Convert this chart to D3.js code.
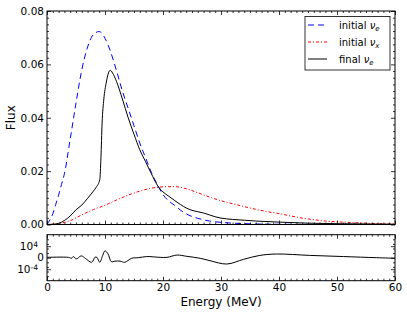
<!DOCTYPE html>
<html><head><meta charset="utf-8">
<script src="https://cdn.jsdelivr.net/npm/d3@7"></script>
<style>body{margin:0;background:#fff}svg{display:block}text{font-family:"DejaVu Sans",sans-serif}</style>
</head><body><svg id="c" width="407" height="316"></svg>
<script>
// initial nu_e
const energyNuE = [0,0.5,1,1.5,2,2.5,3,4,5,6,7,8,9,10,11,12,13,14,15,16,17,18,19,20,21,22,23,24,25,26,28,30,33,36,40,50,60];
const fluxNuE   = [0,0.0017,0.004,0.0075,0.011,0.015,0.019,0.032,0.0455,0.058,0.0665,0.0712,0.0723,0.0698,0.0645,0.0575,0.050,0.0435,0.037,0.0305,0.025,0.0195,0.015,0.0112,0.0088,0.0072,0.0054,0.004,0.003,0.0023,0.0013,0.0008,0.0004,0.0002,0.0001,0.00002,0];
// initial nu_x
const energyNuX = [0,1,1.5,2,3,4,5,6,8,10,12,14,16,18,20,22,24,26,28,30,32,34,36,38,40,42,44,46,48,50,53,56,60];
const fluxNuX   = [0,0,0.0001,0.0003,0.0008,0.0014,0.0025,0.0036,0.0056,0.0072,0.0092,0.011,0.0125,0.0136,0.0141,0.0142,0.0134,0.0119,0.0103,0.0089,0.0078,0.0067,0.0057,0.0048,0.0041,0.0032,0.0024,0.0018,0.0013,0.001,0.0007,0.0004,0.0002];
// final nu_e
const energyFinal = [0,1,2,3,4,5,6,7,8,8.5,9.1,9.3,9.5,9.8,10.2,10.6,10.9,11.3,12,13,14,15,16,17,18,19,20,21,22,23,24,25,26,27,28,29,30,32,34,36,40,45,50,60];
const fluxFinal   = [0,0.0001,0.0004,0.0015,0.0032,0.0055,0.0073,0.0098,0.0125,0.014,0.0168,0.025,0.038,0.047,0.053,0.0568,0.0578,0.0568,0.0535,0.047,0.040,0.0338,0.028,0.0235,0.019,0.0148,0.0122,0.0106,0.009,0.0075,0.0062,0.0053,0.0048,0.0043,0.0036,0.0029,0.0024,0.0019,0.0016,0.0013,0.0009,0.0005,0.0003,0.0001];
// residual panel
const energyRes = [0,3.7,4.25,4.5,5.1,5.7,6.0,6.6,7.7,8.3,8.6,9.1,9.6,10.0,10.5,11.1,11.7,12.6,13.4,14.6,15.8,17.2,19.5,20.7,22.4,24.1,26.4,28.1,31,33.9,36.7,39.6,45.3,51.1,56.8,60];
const valueRes  = [0.03,0.03,-0.05,0.1,-0.1,0.12,0.15,-0.05,-0.4,0.05,0.03,-0.4,0.2,0.6,0.35,-0.35,-0.3,-0.3,-0.4,-0.05,0,0.1,0.03,0.03,0.23,0.12,-0.05,-0.26,-0.55,-0.14,0.2,0.32,0.2,0.1,0,-0.05];

const xTicks = [0,10,20,30,40,50,60];
const yTicks = [0,0.02,0.04,0.06,0.08];
const resTicks = [1,0,-1];
const resLabels = ["10|4","0","10|-4"];

const svg = d3.select("#c");
const x = d3.scaleLinear().domain([0,60]).range([47,395]);
const y = d3.scaleLinear().domain([0,0.08]).range([224.5,11]);
const yr = d3.scaleLinear().domain([-2,2]).range([280.7,234.7]);

function styleAxis(g){
  g.select(".domain").remove();
  g.selectAll("line").attr("stroke","#000").attr("stroke-width",0.8);
  g.selectAll("text").attr("fill","#000").style("font-family","DejaVu Sans").style("font-size","10.5px");
}
const minorX = d3.range(0,61,1).filter(v=>v%10!==0);
const minorY = d3.range(0,0.0801,0.0025).filter(v=>Math.abs(v/0.02-Math.round(v/0.02))>1e-6);
const minorR = [-1.6,-1.2,-0.8,-0.4,0.4,0.8,1.2,1.6];

function panelTicks(yScale, top, bottom, yMaj, yMin, xLabels){
  // bottom
  svg.append("g").attr("transform",`translate(0,${bottom})`)
    .call(d3.axisBottom(x).tickValues(xTicks).tickSize(-4).tickPadding(3).tickFormat(xLabels?d3.format("d"):"")).call(styleAxis);
  svg.append("g").attr("transform",`translate(0,${bottom})`)
    .call(d3.axisBottom(x).tickValues(minorX).tickSize(-2).tickFormat("")).call(styleAxis);
  // top
  svg.append("g").attr("transform",`translate(0,${top})`)
    .call(d3.axisTop(x).tickValues(xTicks).tickSize(-4).tickFormat("")).call(styleAxis);
  svg.append("g").attr("transform",`translate(0,${top})`)
    .call(d3.axisTop(x).tickValues(minorX).tickSize(-2).tickFormat("")).call(styleAxis);
  // left / right
  svg.append("g").attr("transform",`translate(47,0)`)
    .call(d3.axisLeft(yScale).tickValues(yMaj).tickSize(-4).tickFormat("")).call(styleAxis);
  svg.append("g").attr("transform",`translate(47,0)`)
    .call(d3.axisLeft(yScale).tickValues(yMin).tickSize(-2).tickFormat("")).call(styleAxis);
  svg.append("g").attr("transform",`translate(395,0)`)
    .call(d3.axisRight(yScale).tickValues(yMaj).tickSize(-4).tickFormat("")).call(styleAxis);
  svg.append("g").attr("transform",`translate(395,0)`)
    .call(d3.axisRight(yScale).tickValues(yMin).tickSize(-2).tickFormat("")).call(styleAxis);
}

// main panel curves
const line = (xs, ys, sc) => d3.line().x(d=>x(d[0])).y(d=>sc(d[1])).curve(d3.curveMonotoneX)(xs.map((e,i)=>[e,ys[i]]));
svg.append("defs").append("clipPath").attr("id","clipMain").append("rect").attr("x",47).attr("y",11).attr("width",348).attr("height",213.5);
const gm = svg.append("g").attr("clip-path","url(#clipMain)");
gm.append("path").attr("d",line(energyNuX,fluxNuX,y)).attr("fill","none").attr("stroke","#ff0000").attr("stroke-width",1).attr("stroke-dasharray","3,2,1,2");
gm.append("path").attr("d",line(energyNuE,fluxNuE,y)).attr("fill","none").attr("stroke","#0000ff").attr("stroke-width",1).attr("stroke-dasharray","6,4");
gm.append("path").attr("d",line(energyFinal,fluxFinal,y)).attr("fill","none").attr("stroke","#000").attr("stroke-width",1);

panelTicks(y, 11, 224.5, yTicks, minorY, false);
svg.append("g").attr("transform","translate(47,0)")
  .call(d3.axisLeft(y).tickValues(yTicks).tickSize(0).tickPadding(3).tickFormat(d3.format(".2f"))).call(styleAxis);
svg.append("rect").attr("x",47).attr("y",11).attr("width",348).attr("height",213.5).attr("fill","none").attr("stroke","#000").attr("stroke-width",1);

// residual panel
svg.append("path").attr("d",d3.line().x(d=>x(d[0])).y(d=>yr(d[1])).curve(d3.curveCatmullRom)(energyRes.map((e,i)=>[e,valueRes[i]])))
  .attr("fill","none").attr("stroke","#000").attr("stroke-width",1);
panelTicks(yr, 234.7, 280.7, resTicks, minorR, true);
svg.append("rect").attr("x",47).attr("y",234.7).attr("width",348).attr("height",46).attr("fill","none").attr("stroke","#000").attr("stroke-width",1);
resTicks.forEach((v,i)=>{
  const parts = resLabels[i].split("|");
  const t = svg.append("text").attr("y",yr(v)).attr("dy","0.35em").attr("text-anchor","end").style("font-size","10.5px");
  if(parts.length===1){ t.attr("x",44).text(parts[0]); }
  else { t.attr("x",38).text(parts[0]); t.append("tspan").attr("dy","-0.45em").style("font-size","7.5px").text(parts[1]); }
});

// axis labels
svg.append("text").attr("transform","translate(15,117.7) rotate(-90)").attr("text-anchor","middle").style("font-size","12px").text("Flux");
svg.append("text").attr("x",221).attr("y",306).attr("text-anchor","middle").style("font-size","12px").text("Energy (MeV)");

// legend
const legendNames = [["initial ","e"],["initial ","x"],["final ","e"]];
const legendColors = ["#0000ff","#ff0000","#000"];
const legendDash = ["6,4","3,2,1,2",null];
const lg = svg.append("g");
lg.append("rect").attr("x",305).attr("y",16.5).attr("width",85).attr("height",53.5).attr("fill","#fff").attr("stroke","#000").attr("stroke-width",0.8);
legendNames.forEach((n,i)=>{
  const cy = 25 + i*17;
  lg.append("line").attr("x1",308).attr("x2",327).attr("y1",cy).attr("y2",cy).attr("stroke",legendColors[i]).attr("stroke-width",1).attr("stroke-dasharray",legendDash[i]);
  const t = lg.append("text").attr("x",339).attr("y",cy+3.5).style("font-size","10px").text(n[0]);
  t.append("tspan").style("font-style","italic").text("ν");
  t.append("tspan").attr("dy",2.5).style("font-size","7px").style("font-style","italic").text(n[1]);
});
</script></body></html>
